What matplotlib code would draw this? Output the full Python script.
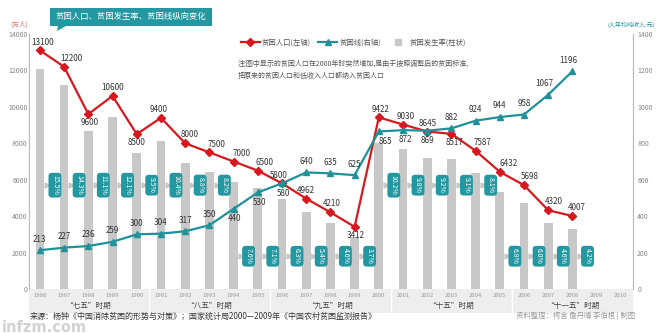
"""Poverty population / poverty line / poverty rate chart."""
import matplotlib
matplotlib.use("Agg")
import matplotlib.pyplot as plt
from matplotlib.lines import Line2D
from matplotlib.patches import Rectangle, Polygon

plt.rcParams["font.family"] = ["Noto Sans CJK SC", "DejaVu Sans"]

years = list(range(1986, 2009))
all_years = list(range(1986, 2011))
poor_pop = [13100, 12200, 9600, 10600, 8500, 9400, 8000, 7500, 7000, 6500, 5800, 4962,
            4210, 3412, 9422, 9030, 8645, 8517, 7587, 6432, 5698, 4320, 4007]
poor_line = [213, 227, 236, 259, 300, 304, 317, 350, 440, 530, 580, 640,
             635, 625, 865, 872, 869, 882, 924, 944, 958, 1067, 1196]
rate = ["15.5%", "14.3%", "11.1%", "12.1%", "9.5%", "10.4%", "8.8%", "8.2%", "7.6%",
        "7.1%", "6.3%", "5.4%", "4.6%", "3.7%", "10.2%", "9.8%", "9.2%", "9.1%",
        "8.1%", "6.8%", "6.0%", "4.6%", "4.2%"]
bar_h = [12100, 11200, 8700, 9450, 7470, 8120, 6930, 6400, 5890, 5560, 4940, 4245,
         3620, 2870, 8000, 7670, 7210, 7140, 6350, 5340, 4740, 3640, 3310]
periods = ["“七五”时期", "“八五”时期", "“九五”时期", "“十五”时期", "“十一五”时期"]
period_mid = [1988, 1993, 1998, 2003, 2008]

# label placement: 1 above, -1 below
red_side = [1, 1, -1, 1, -1, 1, 1, 1, 1, 1, 1, 1, 1, -1, 1, 1, 1, -1, 1, 1, 1, 1, 1]
red_dx = [2, 5, 1, 0, 0, -2, 3, 5, 6, 5, -2, 0, 1, 1, 1, 2, 0, 2, 5, 6, 4, 4, 3]
teal_side = [1, 1, 1, 1, 1, 1, 1, 1, -1, -1, -1, 1, 1, 1, -1, -1, -1, 1, 1, 1, 1, 1, 1]
teal_dx = [0, 0, 0, 0, 0, 0, 0, 0, 1, 1, 1, 0, 0, 0, 5, 2, 0, 0, 0, 0, 0, -3, -3]

RED = "#d7191f"
TEAL = "#1f9199"
BOX = "#2398a1"
GRAY = "#c8c8c8"

fig = plt.figure(figsize=(6.6, 3.33), dpi=100)
ax = fig.add_axes([29 / 660, 44 / 333, 604 / 660, 255 / 333])
ax2 = ax.twinx()

ax.bar(years, bar_h, width=0.36, color=GRAY, zorder=1)

for x, r in zip(years, rate):
    yb = 5700 if (x <= 1993 or 2000 <= x <= 2004) else 1800
    ax.plot(x + 0.3, yb, marker=">", color=GRAY, markersize=3.5, zorder=2)
    ax.text(x + 0.62, yb, r, rotation=-90, ha="center", va="center", fontsize=5.0,
            color="white", zorder=3,
            bbox=dict(boxstyle="round,pad=0.35,rounding_size=0.5", fc=BOX, ec="none"))

ax.plot(years, poor_pop, color=RED, lw=1.6, marker="D", markersize=3.6, zorder=4)
for x, v, s, dx in zip(years, poor_pop, red_side, red_dx):
    ax.annotate(str(v), (x, v), xytext=(dx, 6 * s), textcoords="offset points",
                ha="center", va="center", fontsize=5.8, color="#333333", zorder=5)

ax2.plot(years, poor_line, color=TEAL, lw=1.6, marker="^", markersize=4.5, zorder=4)
for x, v, s, dx in zip(years, poor_line, teal_side, teal_dx):
    ax2.annotate(str(v), (x, v), xytext=(dx, 8 * s if s > 0 else -7), textcoords="offset points",
                 ha="center", va="center", fontsize=5.8, color="#333333", zorder=5)

ax.set_xlim(1985.55, 2010.5)
ax.set_ylim(0, 14000)
ax2.set_ylim(0, 1400)
ax.set_yticks(range(0, 14001, 2000))
ax2.set_yticks(range(0, 1401, 200))
ax.tick_params(axis="y", length=0, labelsize=5, colors="#888888", pad=1)
ax2.tick_params(axis="y", length=0, labelsize=5, colors="#888888", pad=3)
ax.set_xticks(all_years)
ax.set_xticklabels([str(y) for y in all_years])
ax.tick_params(axis="x", length=0, labelsize=4.3, colors="#999999", pad=3)

for a in (ax, ax2):
    for side in ("top", "bottom"):
        a.spines[side].set_visible(False)
    a.spines["left"].set_color("#bbbbbb")
    a.spines["right"].set_color("#bbbbbb")
    a.spines["left"].set_linewidth(0.8)
    a.spines["right"].set_linewidth(0.8)

# bottom band with periods
tr = ax.get_xaxis_transform()
ax.add_patch(Rectangle((1985.55, -0.095), 24.95, 0.095, transform=tr, clip_on=False,
                       fc="#eeeeee", ec="none", zorder=0))
for b in [1990.5, 1995.5, 2000.5, 2005.5]:
    ax.plot([b, b], [-0.095, 0], transform=tr, clip_on=False, color="white", lw=1)
for m, p in zip(period_mid, periods):
    ax.text(m, -0.068, p, transform=tr, ha="center", va="center", fontsize=5.5,
            color="#444444")

# title
fig.patches.append(Rectangle((50 / 660, 1 - 26 / 333), 162 / 660, 18 / 333,
                             transform=fig.transFigure, fc=BOX, ec="none"))
fig.patches.append(Polygon([(58 / 660, 1 - 26 / 333), (66 / 660, 1 - 26 / 333),
                            (57 / 660, 1 - 31 / 333)], transform=fig.transFigure,
                           fc=BOX, ec="none"))
fig.text(131 / 660, 1 - 17 / 333, "贫困人口、贫困发生率、贫困线纵向变化", ha="center",
         va="center", fontsize=6.0, color="white")

fig.text(10 / 660, 1 - 25 / 333, "(万人)", fontsize=4.8, color="#e06a6a", va="center")
fig.text(655 / 660, 1 - 25 / 333, "(人年均纯收入:元)", fontsize=4.3, color=TEAL,
         va="center", ha="right")

handles = [Line2D([], [], color=RED, lw=1.6, marker="D", markersize=3.6),
           Line2D([], [], color=TEAL, lw=1.6, marker="^", markersize=4.5),
           Line2D([], [], color=GRAY, lw=0, marker="s", markersize=5)]
fig.legend(handles, ["贫困人口(左轴)", "贫困线(右轴)", "贫困发生率(柱状)"], ncol=3,
           loc="center left", bbox_to_anchor=(234 / 660, 1 - 43 / 333), frameon=False,
           fontsize=5.3, handlelength=2.6, columnspacing=1.0, handletextpad=0.3,
           labelcolor="#555555")

fig.text(238 / 660, 1 - 64 / 333,
         "注:图中显示的贫困人口在2000年时突然增加,是由于按照调整后的贫困标准,",
         fontsize=5, color="#555555", va="center")
fig.text(238 / 660, 1 - 76 / 333, "把原来的贫困人口和低收入人口都纳入贫困人口",
         fontsize=5, color="#555555", va="center")

fig.text(2 / 660, 1 - 327 / 333, "infzm.com", fontsize=10.5, fontweight="bold",
         color="#d2d2d2", va="center", family=["DejaVu Sans"], zorder=0)
fig.text(30 / 660, 1 - 316 / 333,
         "来源：杨钟《中国消除贫困的形势与对策》；国家统计局2000—2009年《中国农村贫困监测报告》",
         fontsize=5.8, color="#333333", va="center", zorder=2)
fig.text(635 / 660, 1 - 316 / 333, "资料整理：柯言 詹丹晴 李伯根 | 制图", fontsize=5.3,
         color="#999999", va="center", ha="right")

fig.savefig("out.png", dpi=100)
